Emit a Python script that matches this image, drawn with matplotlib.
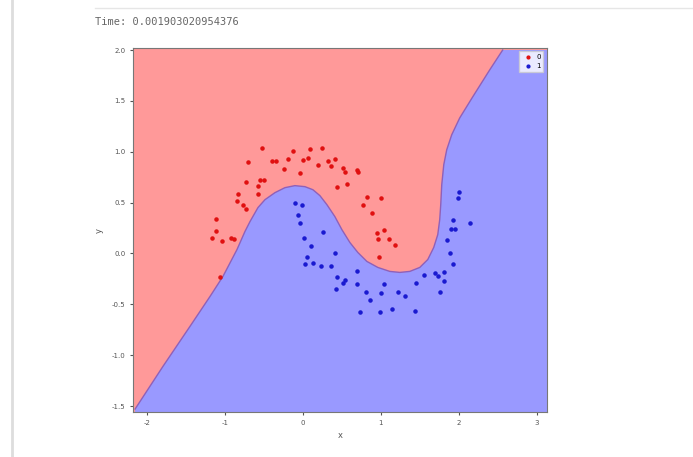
import matplotlib
matplotlib.use("Agg")
import matplotlib.pyplot as plt
from matplotlib.lines import Line2D

# decision boundary (x, y in data units)
boundaryX = [-2.154, -1.795, -1.449, -1.192, -1.026, -0.846, -0.744, -0.679, -0.577, -0.487,
             -0.359, -0.231, -0.103, 0.026, 0.128, 0.218, 0.308, 0.410, 0.500, 0.603,
             0.705, 0.821, 0.962, 1.115, 1.244, 1.372, 1.500, 1.603, 1.679, 1.731,
             1.756, 1.769, 1.782, 1.808, 1.846, 1.910, 2.013, 2.179, 2.397, 2.564]
boundaryY = [-1.529, -1.108, -0.716, -0.422, -0.225, 0.039, 0.216, 0.314, 0.451, 0.529,
             0.598, 0.647, 0.667, 0.657, 0.627, 0.569, 0.480, 0.363, 0.235, 0.108,
             0.010, -0.078, -0.137, -0.176, -0.186, -0.176, -0.137, -0.059, 0.059, 0.186,
             0.333, 0.480, 0.676, 0.873, 1.020, 1.167, 1.333, 1.539, 1.804, 2.000]

# class 0 (red)
redX = [-0.526, -0.128, -0.705, -0.397, -0.346, -0.192, -0.244, -0.038, -0.731, -0.551,
        -0.500, -0.577, -0.577, -0.833, -0.846, -0.769, -0.731, -1.115, -1.115, -1.167,
        -1.038, -0.923, -0.885, -1.064, 0.090, 0.244, 0.064, 0.000, 0.192, 0.321,
        0.410, 0.359, 0.513, 0.538, 0.692, 0.705, 0.436, 0.564, 0.821, 1.000,
        0.769, 0.885, 0.949, 0.962, 1.038, 1.103, 1.179, 0.974]
redY = [1.039, 1.010, 0.902, 0.912, 0.912, 0.931, 0.833, 0.794, 0.706, 0.725,
        0.725, 0.667, 0.588, 0.588, 0.520, 0.480, 0.441, 0.343, 0.225, 0.157,
        0.118, 0.157, 0.147, -0.235, 1.029, 1.039, 0.941, 0.922, 0.873, 0.912,
        0.931, 0.863, 0.843, 0.804, 0.824, 0.804, 0.657, 0.686, 0.559, 0.549,
        0.480, 0.402, 0.206, 0.147, 0.235, 0.147, 0.088, -0.039]

# class 1 (blue)
blueX = [-0.103, -0.013, -0.064, -0.038, 0.256, 0.013, 0.103, 0.410, 0.051, 0.026,
         0.128, 0.231, 0.359, 0.436, 0.513, 0.538, 0.423, 0.692, 0.692, 0.808,
         0.859, 1.000, 1.038, 0.731, 0.987, 1.141, 1.218, 1.308, 1.436, 1.449,
         1.551, 1.692, 1.731, 1.808, 1.808, 1.756, 1.885, 1.923, 1.846, 1.897,
         1.949, 1.923, 2.141, 1.987, 2.000]
blueY = [0.500, 0.480, 0.382, 0.304, 0.216, 0.157, 0.078, 0.000, -0.039, -0.108,
         -0.098, -0.127, -0.127, -0.235, -0.294, -0.265, -0.353, -0.176, -0.304, -0.382,
         -0.461, -0.392, -0.304, -0.578, -0.578, -0.549, -0.382, -0.422, -0.569, -0.294,
         -0.216, -0.196, -0.225, -0.186, -0.275, -0.382, 0.000, -0.108, 0.137, 0.245,
         0.245, 0.333, 0.304, 0.549, 0.608]

xTicks = [-2, -1, 0, 1, 2, 3]
yTicks = [-1.5, -1.0, -0.5, 0.0, 0.5, 1.0, 1.5, 2.0]
xLimits = (-2.18, 3.13)
yLimits = (-1.56, 2.02)
timeText = "Time: 0.001903020954376"

fig = plt.figure(figsize=(6.93, 4.57), dpi=100)

# notebook cell decorations
fig.add_artist(Line2D([0.018, 0.018], [0.0, 1.0], color="#dddddd", linewidth=2.0))
fig.add_artist(Line2D([0.137, 1.0], [0.982, 0.982], color="#e6e6e6", linewidth=1.0))
fig.text(0.137, 0.952, timeText, fontsize=7.5, family="DejaVu Sans Mono", color="#666666",
         va="center", ha="left")

ax = fig.add_axes([0.192, 0.098, 0.597, 0.797])
ax.set_facecolor("#ff9999")

# blue region: below/right of the boundary
polyX = list(boundaryX) + [xLimits[1] + 0.5, xLimits[1] + 0.5, boundaryX[0]]
polyY = list(boundaryY) + [boundaryY[-1], yLimits[0] - 0.5, yLimits[0] - 0.5]
ax.fill(polyX, polyY, color="#9999ff", linewidth=0)
ax.plot(boundaryX, boundaryY, color="#9060b8", linewidth=1.0, solid_joinstyle="round")

ax.scatter(redX, redY, s=5, c="#e01010", label="0", zorder=3)
ax.scatter(blueX, blueY, s=5, c="#1a1ad0", label="1", zorder=3)

ax.set_xlim(xLimits)
ax.set_ylim(yLimits)
ax.set_xticks(xTicks)
ax.set_yticks(yTicks)
ax.set_xticklabels([str(t) for t in xTicks])
ax.set_yticklabels(["%.1f" % t for t in yTicks])
ax.tick_params(labelsize=5, colors="#555555", length=2)
ax.set_xlabel("x", fontsize=6, color="#555555", labelpad=4)
ax.set_ylabel("y", fontsize=6, color="#555555", labelpad=6)
for spine in ax.spines.values():
    spine.set_color("#777777")
    spine.set_linewidth(0.8)

ax.legend(loc="upper right", fontsize=5, markerscale=0.9, handletextpad=0.1,
          borderpad=0.4, labelspacing=0.4, fancybox=False, framealpha=0.8)

fig.savefig("out.png", dpi=100)
